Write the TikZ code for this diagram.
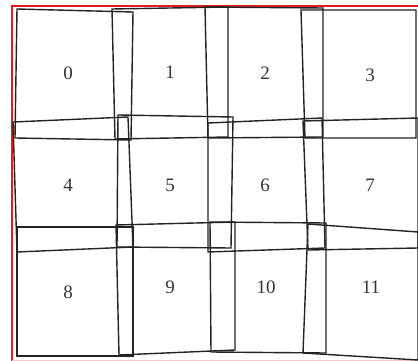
\documentclass[tikz,border=0pt]{standalone}
\usepackage{fontspec}
\setmainfont{Liberation Serif}
\usepackage{tikz}
\definecolor{cline}{RGB}{35,35,35}
\definecolor{cframe}{RGB}{225,30,30}

\begin{document}
\begin{tikzpicture}[
  x = 1pt, y = -1pt,
  cell/.style  = {draw=cline, line width=1.4pt, line join=miter},
  num/.style   = {font=\fontsize{19}{19}\selectfont, text=black!80},
  frame/.style = {draw=cframe, line width=1.2pt},
]
\useasboundingbox (0,0) rectangle (418,361);

%% --- frame ---
\draw[frame] (12,361) -- (12,6) -- (418,6);
\draw[draw=cframe!25, line width=1pt] (12,360.5) -- (418,360.5);

%% --- row 1 ---
\draw[cell] (17,9)   -- (133,12) -- (131,140) -- (15,138)  -- cycle;
\draw[cell] (112,9)  -- (228,7)  -- (228,137) -- (115,139) -- cycle;
\draw[cell] (205,7)  -- (323,8)  -- (323,137) -- (208,138) -- cycle;
\draw[cell] (301,10) -- (416,10) -- (416,138) -- (305,138) -- cycle;

%% --- row 2 ---
\draw[cell] (13,122)  -- (128,117) -- (133,247) -- (17,252)  -- cycle;
\draw[cell] (118,115) -- (233,117) -- (231,248) -- (117,247) -- cycle;
\draw[cell] (208,123) -- (322,118) -- (325,248) -- (208,252) -- cycle;
\draw[cell] (303,121) -- (418,118) -- (418,248) -- (308,250) -- cycle;

%% --- row 3 ---
\draw[cell] (17,227)  -- (133,227) -- (133,356) -- (17,356)  -- cycle;
\draw[cell] (116,225) -- (235,222) -- (235,350) -- (119,355) -- cycle;
\draw[cell] (210,222) -- (326,223) -- (326,353) -- (211,352) -- cycle;
\draw[cell] (308,224) -- (418,232) -- (418,360) -- (303,353) -- cycle;

%% --- numbers ---
\node[num] (n0)  at (68,73)   {0};
\node[num] (n1)  at (170,72)  {1};
\node[num] (n2)  at (265,73)  {2};
\node[num] (n3)  at (370,75)  {3};
\node[num] (n4)  at (68,185)  {4};
\node[num] (n5)  at (170,185) {5};
\node[num] (n6)  at (265,185) {6};
\node[num] (n7)  at (370,185) {7};
\node[num] (n8)  at (68,292)  {8};
\node[num] (n9)  at (170,287) {9};
\node[num] (n10) at (266,287) {10};
\node[num] (n11) at (371,287) {11};

\end{tikzpicture}
\end{document}
